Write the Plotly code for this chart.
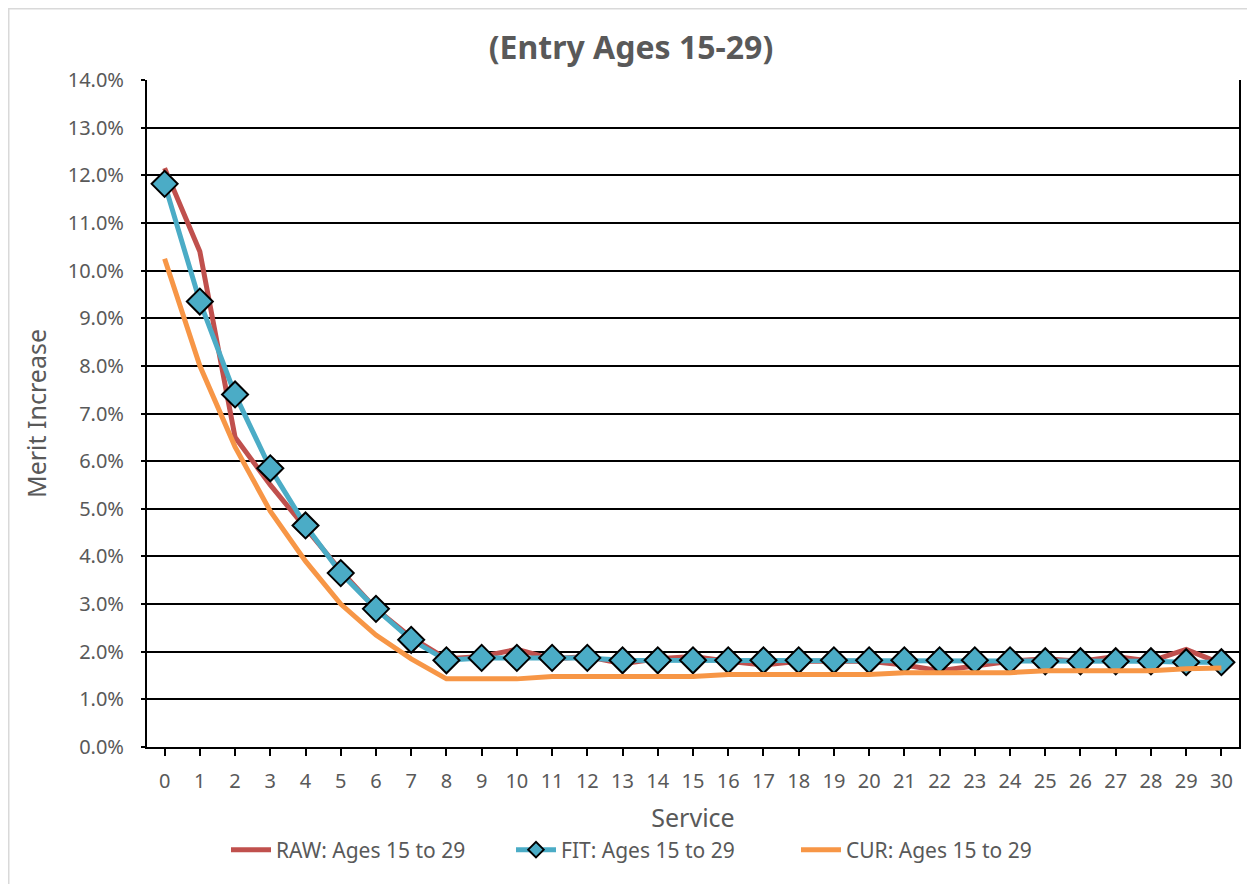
import plotly.graph_objects as go

service = list(range(31))
raw = [12.15, 10.4, 6.5, 5.5, 4.6, 3.7, 2.9, 2.3, 1.85, 1.9, 2.05, 1.85, 1.9, 1.75, 1.85, 1.9,
       1.8, 1.72, 1.8, 1.8, 1.8, 1.72, 1.6, 1.7, 1.8, 1.85, 1.8, 1.9, 1.8, 2.05, 1.75]
fit = [11.82, 9.35, 7.4, 5.85, 4.65, 3.65, 2.9, 2.25, 1.82, 1.87, 1.87, 1.87, 1.87, 1.82, 1.82, 1.82,
       1.82, 1.82, 1.82, 1.82, 1.82, 1.82, 1.82, 1.82, 1.82, 1.8, 1.8, 1.8, 1.8, 1.78, 1.78]
cur = [10.25, 8.0, 6.3, 4.95, 3.9, 3.0, 2.35, 1.85, 1.43, 1.43, 1.43, 1.48, 1.48, 1.48, 1.48, 1.48,
       1.52, 1.52, 1.52, 1.52, 1.52, 1.56, 1.56, 1.56, 1.56, 1.6, 1.6, 1.6, 1.6, 1.64, 1.66]
y_ticks = [i / 100 for i in range(0, 15)]

font = "Noto Sans"
gray = "#595959"

W, H = 1247, 876
L, R, T, B = 139, 16, 72, 137
pw, ph = W - L - R, H - T - B

fig = go.Figure()
fig.add_trace(go.Scatter(x=service, y=[v / 100 for v in raw], mode="lines",
                         name="RAW: Ages 15 to 29", line=dict(color="#C0504D", width=5)))
fig.add_trace(go.Scatter(x=service, y=[v / 100 for v in fit], mode="lines+markers",
                         name="FIT: Ages 15 to 29", line=dict(color="#4BACC6", width=5),
                         marker=dict(symbol="diamond", size=20, color="#4BACC6",
                                     line=dict(color="black", width=2))))
fig.add_trace(go.Scatter(x=service, y=[v / 100 for v in cur], mode="lines",
                         name="CUR: Ages 15 to 29", line=dict(color="#F79646", width=5)))

fig.update_layout(
    width=W, height=H,
    margin=dict(l=L, r=R, t=T, b=B),
    paper_bgcolor="white", plot_bgcolor="white",
    font=dict(family=font, color=gray, size=20),
    title=dict(text="<b>(Entry Ages 15-29)</b>", x=(631 - 8) / W, xanchor="center",
               y=1 - 40 / H, yanchor="middle",
               font=dict(family=font, size=32, color=gray)),
    showlegend=True,
    legend=dict(orientation="h", x=(230 - 8 - L - 4) / pw, xanchor="left",
                y=-(842 - (T + ph)) / ph, yanchor="middle",
                font=dict(family=font, size=21, color=gray), itemwidth=40,
                itemsizing="constant", entrywidth=230, traceorder="normal"),
    shapes=[dict(type="rect", xref="paper", yref="paper",
                 x0=-(L - 0.75) / pw, x1=(W + 5 - L) / pw,
                 y0=-(B + 5) / ph, y1=(ph + T - 0.75) / ph,
                 line=dict(color="#D9D9D9", width=1.5), layer="below")],
)
fig.update_xaxes(range=[-0.5, 30.5], tickmode="array", tickvals=service,
                 ticktext=[str(s) for s in service],
                 showgrid=False, showline=True, linecolor="black", linewidth=2,
                 ticks="outside", ticklen=7, tickwidth=2, tickcolor="black",
                 ticklabelstandoff=8,
                 tickfont=dict(size=20, color=gray), zeroline=False,
                 title=dict(text="Service", font=dict(size=25, color=gray), standoff=16))
fig.update_yaxes(range=[0, 0.14], tickvals=y_ticks, tickformat=".1%",
                 showgrid=True, gridcolor="black", gridwidth=2,
                 showline=True, linecolor="black", linewidth=2, mirror=True,
                 ticks="outside", ticklen=4, tickwidth=2, tickcolor="black",
                 ticklabelstandoff=13,
                 tickfont=dict(size=20, color=gray), zeroline=False,
                 title=dict(text="Merit Increase", font=dict(size=25, color=gray), standoff=14))

fig.write_html("out.html")
